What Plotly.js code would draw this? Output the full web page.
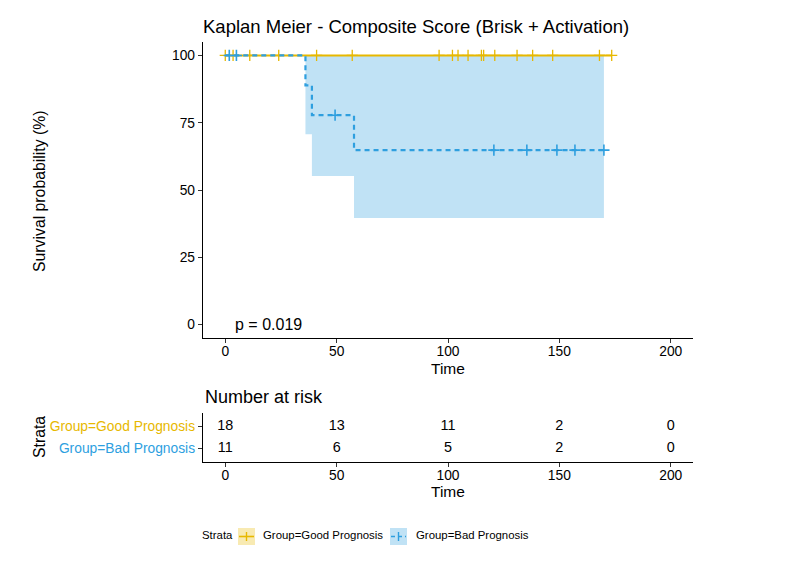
<!DOCTYPE html>
<html>
<head>
<meta charset="utf-8">
<script src="https://cdn.plot.ly/plotly-3.0.1.min.js"></script>
<style>html,body{margin:0;padding:0;background:#fff;}#chart{width:796px;height:571px;}</style>
</head>
<body>
<div id="chart"></div>
<script>
// ---- Data ----
var goodStepTimes = [0, 173.5];
var goodStepSurv = [100, 100];
var goodCensorTimes = [0, 3.5, 11, 24, 41, 57, 96, 102, 104.5, 109, 115, 116, 121, 131, 138, 147, 168, 173.5];

var badStepTimes = [0, 36, 38.9, 57.8, 170];
var badStepSurv = [100, 88.9, 77.8, 64.8, 64.8];
var badLower = [100, 70.7, 55.2, 39.6, 39.6];
var badUpper = [100, 100, 100, 100, 100];
var badCensorTimes = [1.8, 5, 49.3, 120.6, 135.4, 148.9, 157, 170];

var riskTimes = [0, 50, 100, 150, 200];
var goodRisk = [18, 13, 11, 2, 0];
var badRisk = [11, 6, 5, 2, 0];

var strataLabels = ['Group=Bad Prognosis', 'Group=Good Prognosis'];
var xTicks = [0, 50, 100, 150, 200];
var yTicks = [0, 25, 50, 75, 100];

// ---- Style ----
var goodColor = '#E7B800';
var badColor = '#2E9FDF';
var font = 'Liberation Sans, Arial, Helvetica, sans-serif';

function survAt(times, surv, t) {
  var s = surv[0];
  for (var i = 0; i < times.length; i++) { if (times[i] <= t) s = surv[i]; }
  return s;
}

var traces = [
  { x: badStepTimes, y: badLower, mode: 'lines', line: {width: 0, shape: 'hv'}, hoverinfo: 'skip', showlegend: false, xaxis: 'x', yaxis: 'y' },
  { x: badStepTimes, y: badUpper, mode: 'lines', line: {width: 0, shape: 'hv'}, fill: 'tonexty', fillcolor: 'rgba(46,159,223,0.3)', hoverinfo: 'skip', showlegend: false, xaxis: 'x', yaxis: 'y' },
  { x: goodStepTimes, y: goodStepSurv, mode: 'lines', line: {color: goodColor, width: 2, shape: 'hv'}, showlegend: false, xaxis: 'x', yaxis: 'y' },
  { x: goodCensorTimes, y: goodCensorTimes.map(function(t){return survAt(goodStepTimes, goodStepSurv, t);}), mode: 'markers',
    marker: {symbol: 'cross-thin-open', size: 8, color: goodColor, line: {color: goodColor, width: 1.3}}, showlegend: false, xaxis: 'x', yaxis: 'y' },
  { x: badStepTimes, y: badStepSurv, mode: 'lines', line: {color: badColor, width: 2.2, shape: 'hv', dash: '5px,4px'}, showlegend: false, xaxis: 'x', yaxis: 'y' },
  { x: badCensorTimes, y: badCensorTimes.map(function(t){return survAt(badStepTimes, badStepSurv, t);}), mode: 'markers',
    marker: {symbol: 'cross-thin-open', size: 8, color: badColor, line: {color: badColor, width: 1.6}}, showlegend: false, xaxis: 'x', yaxis: 'y' },
  { x: riskTimes, y: riskTimes.map(function(){return 2;}), text: goodRisk.map(String), mode: 'text',
    textfont: {family: font, size: 14.4, color: '#000'}, showlegend: false, xaxis: 'x2', yaxis: 'y2', hoverinfo: 'skip' },
  { x: riskTimes, y: riskTimes.map(function(){return 1;}), text: badRisk.map(String), mode: 'text',
    textfont: {family: font, size: 14.4, color: '#000'}, showlegend: false, xaxis: 'x2', yaxis: 'y2', hoverinfo: 'skip' }
];

function px2x(px) { return (px - 203) / 490; }
function py2y(py) { return (462 - py) / 420; }

var axisCommon = {
  showline: true, linecolor: '#000', linewidth: 1.2, ticks: 'outside', ticklen: 4, tickcolor: '#333', tickwidth: 1,
  showgrid: false, zeroline: false, tickfont: {family: font, size: 13.8, color: '#000'}, fixedrange: true
};

var layout = {
  width: 796, height: 571,
  margin: {l: 203, r: 103, t: 42, b: 109},
  paper_bgcolor: '#fff', plot_bgcolor: '#fff',
  font: {family: font, color: '#000'},
  title: {text: 'Kaplan Meier - Composite Score (Brisk + Activation)', xref: 'paper', x: 0, xanchor: 'left',
          yref: 'container', y: 1 - 27/571, yanchor: 'middle', font: {family: font, size: 18.5, color: '#000'}},
  xaxis: Object.assign({}, axisCommon, {domain: [0, 1], range: [-10, 210], tickvals: xTicks, anchor: 'y', ticklabelstandoff: -4}),
  yaxis: Object.assign({}, axisCommon, {domain: [py2y(338), 1], range: [-5, 105], tickvals: yTicks, anchor: 'x'}),
  xaxis2: Object.assign({}, axisCommon, {domain: [0, 1], range: [-10, 210], tickvals: xTicks, anchor: 'y2', ticklabelstandoff: -4}),
  yaxis2: Object.assign({}, axisCommon, {domain: [0, py2y(413)], range: [0.4, 2.6], tickvals: [1, 2],
    tickfont: {family: font, size: 13.8, color: '#000'},
    ticktext: ['<span style="color:' + badColor + '">' + strataLabels[0] + '</span>',
               '<span style="color:' + goodColor + '">' + strataLabels[1] + '</span>'],
    anchor: 'x2'}),
  showlegend: false,
  annotations: [
    {text: 'Survival probability (%)', xref: 'paper', yref: 'paper', x: px2x(40), y: py2y(191), textangle: -90,
     showarrow: false, font: {family: font, size: 15.8}, xanchor: 'center', yanchor: 'middle'},
    {text: 'Time', xref: 'paper', yref: 'paper', x: 0.5, y: py2y(368), showarrow: false, font: {family: font, size: 15.5}, xanchor: 'center', yanchor: 'middle'},
    {text: 'p = 0.019', xref: 'x', yref: 'y', x: 3.6, y: 0, xanchor: 'left', yanchor: 'middle', showarrow: false, font: {family: font, size: 16}},
    {text: 'Number at risk', xref: 'paper', yref: 'paper', x: 0, y: py2y(397), xanchor: 'left', yanchor: 'middle', showarrow: false, font: {family: font, size: 18}},
    {text: 'Strata', xref: 'paper', yref: 'paper', x: px2x(39), y: py2y(437), textangle: -90, xanchor: 'center', yanchor: 'middle', showarrow: false, font: {family: font, size: 15.8}},
    {text: 'Time', xref: 'paper', yref: 'paper', x: 0.5, y: py2y(491), showarrow: false, font: {family: font, size: 15.5}, xanchor: 'center', yanchor: 'middle'},
    {text: 'Strata', xref: 'paper', yref: 'paper', x: px2x(200), y: py2y(535), xanchor: 'left', yanchor: 'middle', showarrow: false, font: {family: font, size: 11.4}},
    {text: strataLabels[1], xref: 'paper', yref: 'paper', x: px2x(261), y: py2y(535), xanchor: 'left', yanchor: 'middle', showarrow: false, font: {family: font, size: 11.4}},
    {text: strataLabels[0], xref: 'paper', yref: 'paper', x: px2x(414), y: py2y(535), xanchor: 'left', yanchor: 'middle', showarrow: false, font: {family: font, size: 11.4}}
  ],
  shapes: [
    {type: 'rect', xref: 'paper', yref: 'paper', x0: px2x(238), x1: px2x(255), y0: py2y(545), y1: py2y(528), fillcolor: 'rgba(231,184,0,0.3)', line: {width: 0}},
    {type: 'line', xref: 'paper', yref: 'paper', x0: px2x(239), x1: px2x(254), y0: py2y(536.5), y1: py2y(536.5), line: {color: goodColor, width: 1.6}},
    {type: 'line', xref: 'paper', yref: 'paper', x0: px2x(246.5), x1: px2x(246.5), y0: py2y(541), y1: py2y(532), line: {color: goodColor, width: 1.4}},
    {type: 'rect', xref: 'paper', yref: 'paper', x0: px2x(390), x1: px2x(407), y0: py2y(545), y1: py2y(528), fillcolor: 'rgba(46,159,223,0.3)', line: {width: 0}},
    {type: 'line', xref: 'paper', yref: 'paper', x0: px2x(391), x1: px2x(406), y0: py2y(536.5), y1: py2y(536.5), line: {color: badColor, width: 1.6, dash: '4px,3px'}},
    {type: 'line', xref: 'paper', yref: 'paper', x0: px2x(398.5), x1: px2x(398.5), y0: py2y(541), y1: py2y(532), line: {color: badColor, width: 1.4}}
  ]
};

Plotly.newPlot('chart', traces, layout, {displayModeBar: false, staticPlot: true});
</script>
</body>
</html>
